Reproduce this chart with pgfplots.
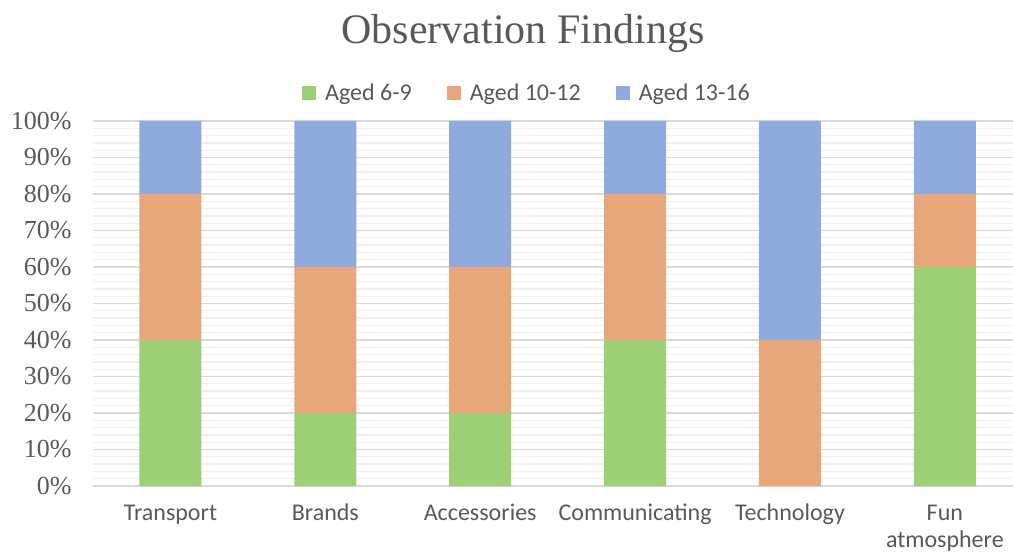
\documentclass[border=0pt]{standalone}
\usepackage{pgfplots}
\pgfplotsset{compat=1.18}
\usepackage{fontspec}
\setmainfont{Liberation Serif}
\newfontfamily\calfont{Carlito}
\definecolor{cgreen}{RGB}{157,207,116}
\definecolor{corange}{RGB}{232,167,122}
\definecolor{cblue}{RGB}{143,170,220}
\definecolor{txt}{RGB}{89,89,89}
\definecolor{majg}{RGB}{217,217,217}
\definecolor{ming}{RGB}{240,240,240}
\begin{document}
\begin{tikzpicture}[x=1pt,y=1pt]
\useasboundingbox (-93,-71) rectangle (920,486);
\begin{axis}[
  at={(0pt,0pt)}, anchor=south west,
  scale only axis, width=920pt, height=365pt,
  ybar stacked, bar width=62pt,
  xmin=-0.5, xmax=5.44, ymin=0, ymax=100,
  xtick={0,1,2,3,4,5},
  xticklabels={\strut Transport,\strut Brands,\strut Accessories,\strut Communicating,\strut Technology,{\strut Fun\\\strut atmosphere}},
  x tick label style={font=\calfont\fontsize{24}{27}\selectfont, text=txt, align=center, anchor=north, yshift=-12pt},
  ytick={0,10,...,100},
  yticklabels={0\%,10\%,20\%,30\%,40\%,50\%,60\%,70\%,80\%,90\%,100\%},
  y tick label style={font=\fontsize{26}{28}\selectfont, text=txt, xshift=-18pt},
  minor y tick num=4,
  ymajorgrids, yminorgrids,
  major grid style={majg, line width=1.3pt},
  minor grid style={ming, line width=1.3pt},
  major tick length=0pt, minor tick length=0pt,
  axis line style={draw=none},
  legend columns=3,
  legend style={draw=none, fill=none, at={(434pt,393pt)}, anchor=center,
    font=\calfont\fontsize{24}{26}\selectfont, text=txt,
    /tikz/every odd column/.append style={column sep=7pt},
    /tikz/every even column/.append style={column sep=33pt}},
  legend image code/.code={\fill[#1,draw=none] (0pt,-7pt) rectangle (14pt,7pt);},
  clip=false,
]
\addplot[fill=cgreen, draw=none] coordinates {(0,40) (1,20) (2,20) (3,40) (4,0) (5,60)};
\addplot[fill=corange, draw=none] coordinates {(0,40) (1,40) (2,40) (3,40) (4,40) (5,20)};
\addplot[fill=cblue, draw=none] coordinates {(0,20) (1,40) (2,40) (3,20) (4,60) (5,20)};
\legend{Aged 6-9,Aged 10-12,Aged 13-16}
\end{axis}
\node[text=txt, font=\fontsize{42}{46}\selectfont] at (430,453) {Observation Findings};
\end{tikzpicture}
\end{document}
